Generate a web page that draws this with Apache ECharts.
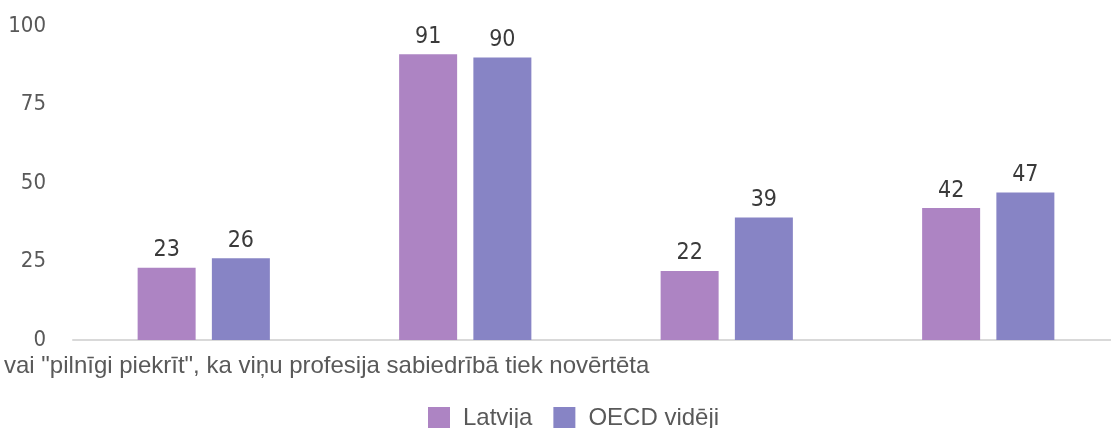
<!DOCTYPE html>
<html><head><meta charset="utf-8">
<script src="https://cdn.jsdelivr.net/npm/echarts@6/dist/echarts.min.js"></script>
<style>html,body{margin:0;padding:0;background:#fff;overflow:hidden;width:1111px;height:428px}#c{width:1119px;height:428px}</style>
</head><body><div id="c"></div>
<script>
const categories = ['A', 'B', 'C', 'D'];
const latvija = [23, 91, 22, 42];
const oecd = [26, 90, 39, 47];
const yTicks = [0, 25, 50, 75, 100];
const seriesNames = ['Latvija', 'OECD vidēji'];
const footText = 'vai "pilnīgi piekrīt", ka viņu profesija sabiedrībā tiek novērtēta';

const chart = echarts.init(document.getElementById('c'), null, {renderer: 'canvas'});
const narrow = '"Liberation Sans Narrow", "DejaVu Sans Condensed", "Open Sans"';
const labelStyle = {show: true, position: 'top', distance: 6, color: '#3a3a3a',
  fontFamily: narrow, fontSize: 23};
chart.setOption({
  animation: false,
  grid: {left: 73, right: 0, top: 26, bottom: 88, containLabel: false},
  legend: {
    data: seriesNames, top: 406, left: 428, padding: 0, itemWidth: 22, itemHeight: 22, itemGap: 21,
    textStyle: {fontFamily: 'Liberation Sans', fontSize: 24, color: '#595959', padding: [0, 0, 0, 8]}, icon: 'rect'
  },
  xAxis: {
    type: 'category', data: categories,
    axisLine: {lineStyle: {color: '#d9d9d9', width: 2}},
    axisTick: {show: false}, axisLabel: {show: false}
  },
  yAxis: {
    type: 'value', min: 0, max: 100, interval: 25,
    axisLine: {show: false}, axisTick: {show: false}, splitLine: {show: false},
    axisLabel: {color: '#595959', fontFamily: narrow, fontSize: 22, margin: 27,
      formatter: v => yTicks.includes(v) ? String(v) : ''}
  },
  graphic: [{type: 'text', left: 4, top: 354,
    style: {text: footText, fontFamily: 'Liberation Sans', fontSize: 24, fill: '#595959'}}],
  series: [
    {name: seriesNames[0], type: 'bar', data: latvija, barWidth: 58, barGap: '28%',
      itemStyle: {color: '#ad84c3'}, label: labelStyle},
    {name: seriesNames[1], type: 'bar', data: oecd, barWidth: 58,
      itemStyle: {color: '#8784c5'}, label: labelStyle}
  ]
});
</script></body></html>
